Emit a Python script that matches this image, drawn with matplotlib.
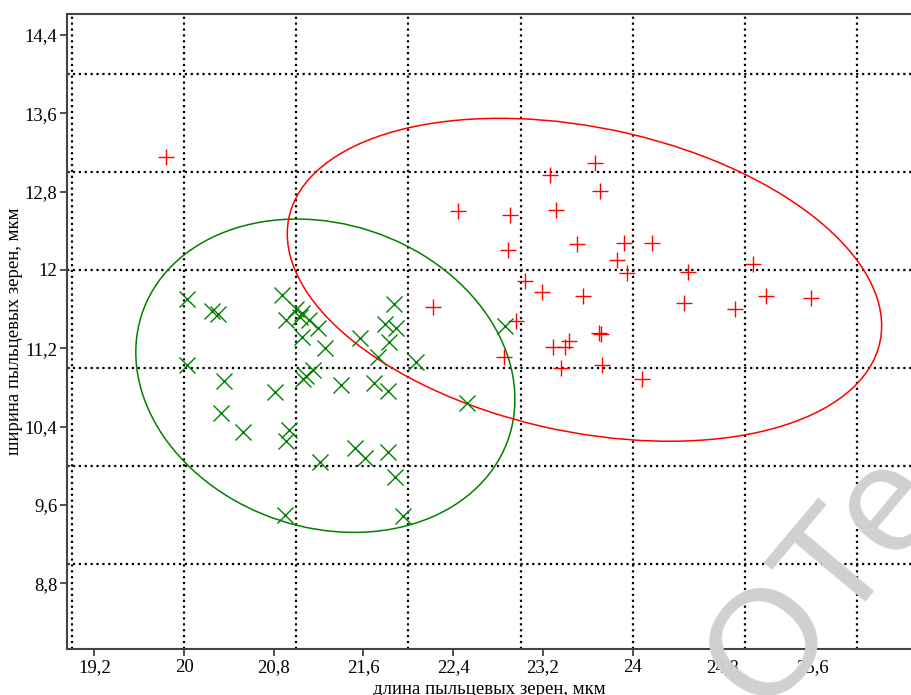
import numpy as np
import matplotlib
matplotlib.use("Agg")
import matplotlib.pyplot as plt
from matplotlib.patches import Ellipse

plt.rcParams["font.family"] = ["Liberation Serif", "DejaVu Serif"]

# pollen grain length / width, um
red_x = [19.84, 22.44, 22.91, 22.89, 23.26, 23.66, 23.71, 23.32, 23.50, 23.92,
         24.17, 23.86, 23.95, 24.49, 25.07, 23.04, 23.19, 23.56, 24.46, 24.91,
         25.19, 25.59, 22.22, 22.96, 22.85, 23.29, 23.40, 23.43, 23.70, 23.72,
         23.36, 23.73, 24.08]
red_y = [13.15, 12.60, 12.56, 12.20, 12.97, 13.09, 12.81, 12.61, 12.27, 12.28,
         12.28, 12.10, 11.97, 11.98, 12.06, 11.89, 11.78, 11.73, 11.66, 11.60,
         11.73, 11.71, 11.62, 11.48, 11.11, 11.21, 11.21, 11.27, 11.36, 11.35,
         11.00, 11.03, 10.89]

green_x = [20.03, 20.25, 20.30, 20.87, 20.91, 21.00, 21.05, 21.03, 21.11, 21.19,
           21.05, 21.26, 21.87, 21.79, 21.89, 21.83, 21.57, 21.73, 22.07, 20.03,
           20.36, 20.81, 21.15, 21.09, 21.06, 21.40, 21.69, 21.82, 22.52, 22.86,
           20.33, 20.53, 20.94, 20.91, 21.52, 21.61, 21.21, 21.82, 21.88, 20.90,
           21.95]
green_y = [11.70, 11.58, 11.55, 11.74, 11.49, 11.60, 11.56, 11.52, 11.49, 11.41,
           11.32, 11.20, 11.65, 11.45, 11.41, 11.26, 11.31, 11.11, 11.06, 11.03,
           10.87, 10.75, 10.98, 10.92, 10.89, 10.83, 10.85, 10.76, 10.64, 11.43,
           10.54, 10.35, 10.37, 10.25, 10.18, 10.08, 10.04, 10.14, 9.89, 9.50,
           9.49]

# ellipses: centre and 2x2 shape matrix (data units)
green_centre = (21.26, 10.92)
green_shape = [[2.856, -0.406], [-0.406, 2.56]]
red_centre = (23.57, 11.90)
red_shape = [[7.02, -1.245], [-1.245, 2.72]]

x_ticks = [19.2, 20, 20.8, 21.6, 22.4, 23.2, 24, 24.8, 25.6]
x_ticklabels = ["19,2", "20", "20,8", "21,6", "22,4", "23,2", "24", "24,8", "25,6"]
y_ticks = [8.8, 9.6, 10.4, 11.2, 12, 12.8, 13.6, 14.4]
y_ticklabels = ["8,8", "9,6", "10,4", "11,2", "12", "12,8", "13,6", "14,4"]
x_grid = [19, 20, 21, 22, 23, 24, 25, 26]
y_grid = [9, 10, 11, 12, 13, 14]


def shape_ellipse(centre, shape, color):
    vals, vecs = np.linalg.eigh(np.array(shape))
    angle = np.degrees(np.arctan2(vecs[1, 1], vecs[0, 1]))
    return Ellipse(centre, 2 * np.sqrt(vals[1]), 2 * np.sqrt(vals[0]), angle=angle,
                   fill=False, edgecolor=color, linewidth=1.1, zorder=3)


fig = plt.figure(figsize=(9.12, 6.95), dpi=100)
ax = fig.add_axes([0.0735, 0.0662, 0.9265, 0.9137])

for gx in x_grid:
    ax.axvline(gx, color="black", linestyle=":", linewidth=1.6, zorder=1)
for gy in y_grid:
    ax.axhline(gy, color="black", linestyle=":", linewidth=1.6, zorder=1)

ax.plot(red_x, red_y, linestyle="none", marker="+", markersize=12,
        markeredgewidth=1.0, color="red", zorder=4)
ax.plot(green_x, green_y, linestyle="none", marker="x", markersize=12,
        markeredgewidth=1.0, color="green", zorder=4)

ax.add_patch(shape_ellipse(green_centre, green_shape, "green"))
ax.add_patch(shape_ellipse(red_centre, red_shape, "red"))

ax.set_xlim(18.957, 26.49)
ax.set_ylim(8.129, 14.615)
ax.set_xticks(x_ticks)
ax.set_xticklabels(x_ticklabels)
ax.set_yticks(y_ticks)
ax.set_yticklabels(y_ticklabels)
ax.set_yticks(y_grid, minor=True)
ax.tick_params(axis="both", which="major", direction="out", length=5, width=1.2,
               color="#333333", labelsize=13.5, pad=2)
ax.tick_params(axis="y", which="minor", direction="in", length=2, width=1.2, color="#333333")

for side in ("left", "bottom", "top"):
    ax.spines[side].set_color("#444444")
    ax.spines[side].set_linewidth(1.5)
ax.spines["right"].set_visible(False)

ax.set_xlabel("длина пыльцевых зерен, мкм", fontsize=13.5, labelpad=4)
ax.set_ylabel("ширина пыльцевых зерен, мкм", fontsize=13.5, labelpad=1)

# watermark in the corner of the scanned figure
fig.text(0.905, 0.165, "ОТе", fontsize=108, color="#d0d0d0", rotation=50,
         ha="center", va="center", family="Liberation Sans", zorder=10)

fig.savefig("out.png", dpi=100)
